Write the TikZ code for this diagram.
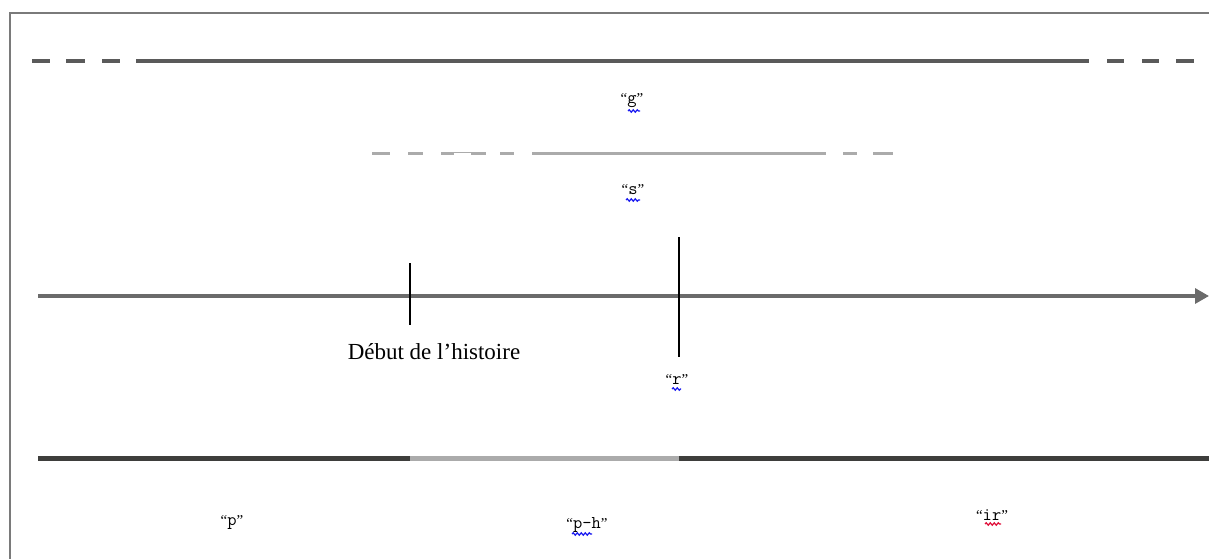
\documentclass[tikz,border=0pt]{standalone}
\usepackage{fontspec}
\setmainfont{Liberation Serif}
\usetikzlibrary{arrows.meta,decorations.pathmorphing}
\definecolor{frameg}{HTML}{7A7A7A}
\definecolor{darkline}{HTML}{5A5A5A}
\definecolor{lightline}{HTML}{ABABAB}
\definecolor{axisg}{HTML}{6B6B6B}
\definecolor{bardark}{HTML}{3E3E3C}
\definecolor{barlight}{HTML}{ABABAB}
\definecolor{spellblue}{HTML}{1A1AF0}
\definecolor{spellred}{HTML}{E0103A}
\newcommand{\qlab}[1]{{\rmfamily\fontsize{15}{17}\selectfont“}{\ttfamily\fontsize{18}{20}\selectfont #1}{\rmfamily\fontsize{15}{17}\selectfont”}}
\tikzset{
  frameline/.style={draw=frameg, line width=1.5pt},
  gline/.style={draw=darkline, line width=4pt},
  sline/.style={draw=lightline, line width=3pt},
  axisline/.style={draw=axisg, line width=3.2pt},
  tickline/.style={draw=black, line width=1.2pt},
  barseg/.style={line width=5pt},
  lbl/.style={inner sep=0pt},
  txt/.style={inner sep=0pt, font=\fontsize{23}{27}\selectfont},
  squig/.style={line width=1.2pt, decorate, decoration={snake, amplitude=1.2pt, segment length=4pt}}
}
\begin{document}
\begin{tikzpicture}[x=1pt,y=-1pt]
\useasboundingbox (0,0) rectangle (1209,558);
% frame
\draw[frameline] (10,560) -- (10,13) -- (1211,13);
% "g" line
\foreach \a/\b in {32/50,66/85,102/120,1107/1124,1142/1159,1176/1194}
  \draw[gline] (\a,61) -- (\b,61);
\coordinate (g1) at (136,61);
\coordinate (g2) at (1089,61);
\draw[gline] (g1) -- (g2);
% "s" line
\foreach \a/\b in {372/390,408/423,441/454,471/486,500/514,843/857,873/893}
  \draw[sline] (\a,153) -- (\b,153);
\draw[draw=lightline, line width=0.8pt] (454,152) -- (471,152);
\coordinate (s1) at (532,153);
\coordinate (s2) at (826,153);
\draw[sline] (s1) -- (s2);
% labels
\node[lbl] (lg) at (632,101) {\qlab{g}};
\node[lbl] (ls) at (633,190) {\qlab{s}};
% axis
\coordinate (ax0) at (38,296);
\coordinate (ax1) at (1209,296);
\draw[axisline, -{Triangle[length=14pt,width=15pt]}] (ax0) -- (ax1);
% ticks
\coordinate (t1a) at (410,263);
\coordinate (t1b) at (410,325);
\coordinate (t2a) at (679,237);
\coordinate (t2b) at (679,357);
\draw[tickline] (t1a) -- (t1b);
\draw[tickline] (t2a) -- (t2b);
\node[txt] (debut) at (434,352) {Début de l’histoire};
\node[lbl] (lr) at (677,379) {\qlab{r}};
% bottom bar
\coordinate (b0) at (38,458);
\coordinate (b1) at (410,458);
\coordinate (b2) at (679,458);
\coordinate (b3) at (1209,458);
\draw[barseg, draw=bardark] (b0) -- (b1);
\draw[barseg, draw=barlight] (b1) -- (b2);
\draw[barseg, draw=bardark] (b2) -- (b3);
\node[lbl] (lp) at (232,522) {\qlab{p}};
\node[lbl] (lph) at (587,525) {\qlab{p-h}};
\node[lbl] (lir) at (992,515) {\qlab{ir}};
% spell-check squiggles
\draw[squig, spellblue] (628,111) -- (640,111);
\draw[squig, spellblue] (626,200) -- (640,200);
\draw[squig, spellblue] (672,389) -- (681,389);
\draw[squig, spellblue] (572,534) -- (592,534);
\draw[squig, spellred] (985,524) -- (1001,524);
\end{tikzpicture}
\end{document}
